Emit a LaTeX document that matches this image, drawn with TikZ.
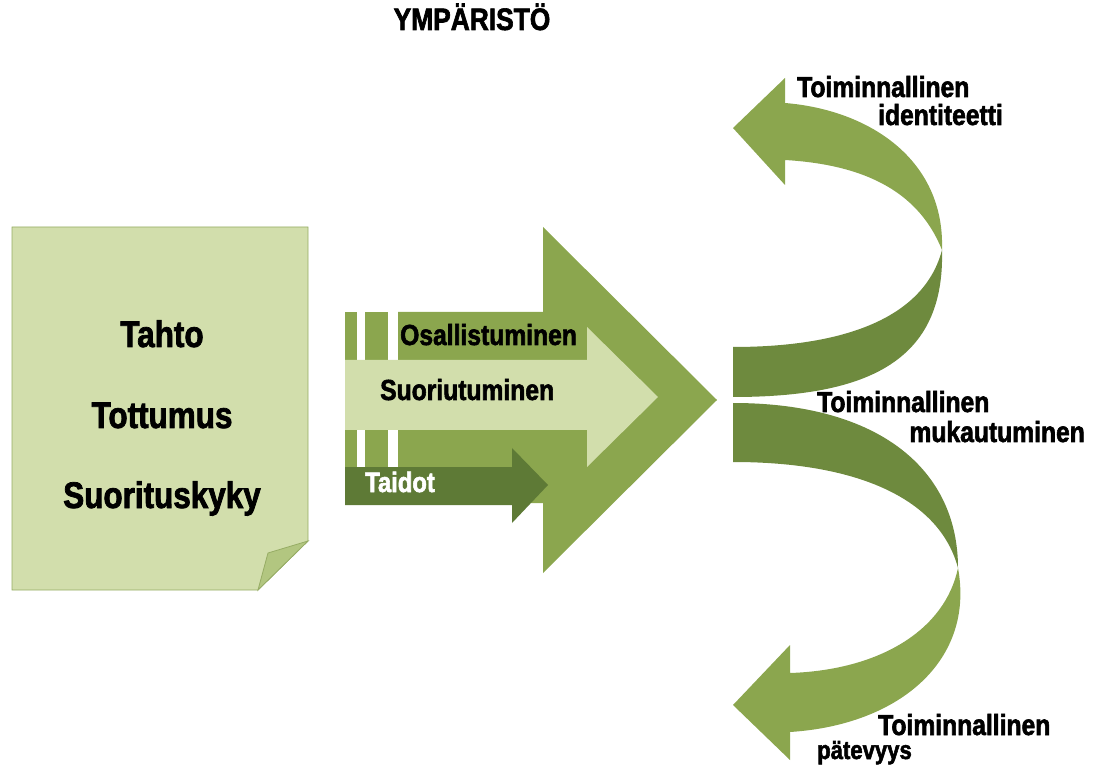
\documentclass[tikz,border=0pt]{standalone}
\usepackage{fontspec}
\newfontfamily\hand[FakeStretch=0.85,FakeBold=2]{Liberation Sans}
\definecolor{gmid}{RGB}{139,166,78}
\definecolor{gdark}{RGB}{94,122,54}
\definecolor{gback}{RGB}{110,138,62}
\definecolor{glight}{RGB}{210,222,172}
\definecolor{gline}{RGB}{150,172,100}
\definecolor{gfold}{RGB}{178,198,128}
\tikzset{
  lbl/.style={inner sep=0pt, font=\hand\bfseries},
  lblw/.style={lbl, anchor=base west},
  lble/.style={lbl, anchor=base east},
  lblc/.style={lbl, anchor=base},
  fs/.style={font=\hand\bfseries\fontsize{#1}{#1}\selectfont}
}
\begin{document}
\begin{tikzpicture}[x=1pt,y=-1pt]
\useasboundingbox (0,0) rectangle (1096,767);
% paper
\draw[fill=glight, draw=gline, line width=0.8pt]
  (12,227) -- (308,227) -- (308,541) -- (258,590) -- (12,590) -- cycle;
\draw[fill=gfold, draw=gline, line width=0.8pt]
  (308,541) -- (268,553) -- (258,590) -- cycle;
\node[lblc, fs=37] (tahto) at (162,347) {Tahto};
\node[lblc, fs=37] (tottumus) at (162,428) {Tottumus};
\node[lblc, fs=37] (suoritus) at (162,508) {Suorituskyky};
% big striped arrow
\fill[gmid] (398,312) -- (543,312) -- (543,227) -- (717,400) -- (543,573) -- (543,503) -- (398,503) -- cycle;
\fill[gmid] (345,312) rectangle (357,503);
\fill[gmid] (365,312) rectangle (388,503);
% Suoriutuminen arrow
\fill[glight] (345,360) -- (587,360) -- (587,327) -- (658,397) -- (587,467) -- (587,430) -- (345,430) -- cycle;
% Taidot arrow
\fill[gdark] (345,467) -- (512,467) -- (512,448) -- (548,485) -- (512,523) -- (512,505) -- (345,505) -- cycle;
\node[lblw, fs=29] (osall) at (400,345) {Osallistuminen};
\node[lblw, fs=29] (suoriu) at (380,400) {Suoriutuminen};
\node[lblw, fs=28, text=white] (taidot) at (365,492) {Taidot};
% upper curved arrow
\fill[gback] (733,347) .. controls (850,347) and (925,315) .. (942,250)
  .. controls (945,360) and (870,397) .. (733,397) -- cycle;
\fill[gmid] (942,250) .. controls (945,160) and (870,110) .. (785,103)
  -- (785,78) -- (733,128) -- (785,185) -- (785,160)
  .. controls (870,165) and (920,195) .. (942,250) -- cycle;
% lower curved arrow
\fill[gback] (733,403) .. controls (880,403) and (958,470) .. (958,568)
  .. controls (940,500) and (860,462) .. (733,462) -- cycle;
\fill[gmid] (958,568) .. controls (975,660) and (900,725) .. (790,732)
  -- (790,760) -- (733,705) -- (790,645) -- (790,673)
  .. controls (880,670) and (945,630) .. (958,568) -- cycle;
% labels
\node[lblc, fs=31] (ymp) at (472,30) {YMPÄRISTÖ};
\node[lblw, fs=29] (ti1) at (797,97) {Toiminnallinen};
\node[lble, fs=29] (ti2) at (1003,125) {identiteetti};
\node[lblw, fs=29] (tm1) at (817,412) {Toiminnallinen};
\node[lble, fs=29] (tm2) at (1085,442) {mukautuminen};
\node[lblw, fs=29] (tp1) at (878,735) {Toiminnallinen};
\node[lblw, fs=26] (tp2) at (817,759) {pätevyys};
\end{tikzpicture}
\end{document}
